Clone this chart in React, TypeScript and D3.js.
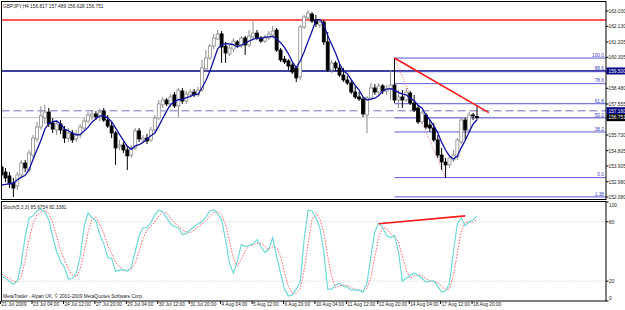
import React from 'react'
import * as d3 from 'd3'

const W = 625
const H = 310
const plotL = 1.5
const plotR = 606
const mainTop = 1.5
const mainBot = 199.5
const stochTop = 201.5
const stochBot = 301

const symbolTitle = 'GBPJPY,H4  156.817 157.489 156.628 156.751'
const stochTitle = 'Stoch(5,3,3) 85.6754 82.3381'
const copyright = 'MetaTrader - Alpari UK, \u00a9 2001-2009 MetaQuotes Software Corp.'

// one label every 8 bars, starting at bar 0
const timeLabels = ['21 Jul 2009', '23 Jul 04:00', '24 Jul 12:00', '27 Jul 20:00', '29 Jul 04:00', '30 Jul 12:00',
  '31 Jul 20:00', '4 Aug 04:00', '5 Aug 12:00', '6 Aug 20:00', '10 Aug 04:00', '11 Aug 12:00',
  '12 Aug 20:00', '14 Aug 04:00', '17 Aug 12:00', '18 Aug 20:00']

const priceTicks = ['163.030', '162.130', '161.205', '160.305', '159.380', '158.480', '157.555',
  '156.655', '155.730', '154.805', '153.905', '152.980', '152.080']

// H4 bars: [open, high, low, close]
const candles = [
  [153.85, 154.08, 153.08, 153.38], [153.55, 153.79, 152.96, 153.20], [153.32, 153.55, 152.61, 152.91],
  [152.91, 153.20, 152.08, 152.61], [152.73, 153.55, 152.49, 153.38], [153.38, 154.26, 153.20, 154.08],
  [154.08, 154.26, 153.55, 153.79], [153.67, 154.85, 153.49, 154.67], [154.55, 155.73, 154.38, 155.55],
  [155.50, 156.50, 155.32, 156.20], [156.20, 157.44, 156.03, 156.85], [156.73, 157.50, 156.38, 157.08],
  [157.08, 157.32, 156.20, 156.38], [156.44, 156.73, 155.85, 156.08], [156.03, 156.61, 155.73, 156.38],
  [156.38, 156.61, 155.79, 156.03], [156.03, 156.26, 155.26, 155.55], [155.55, 156.14, 155.32, 155.85],
  [155.85, 156.03, 155.26, 155.44], [155.50, 156.03, 155.32, 155.79], [155.73, 156.38, 155.55, 156.20],
  [156.14, 156.73, 156.03, 156.55], [156.55, 157.08, 156.44, 156.91], [156.85, 157.20, 156.61, 156.97],
  [156.97, 157.14, 156.61, 156.79], [156.79, 157.26, 156.55, 157.08], [157.14, 157.32, 156.50, 156.61],
  [156.61, 156.91, 156.14, 156.26], [156.26, 156.50, 155.55, 155.85], [155.85, 155.97, 153.97, 154.97],
  [155.03, 155.44, 154.85, 155.14], [155.14, 155.32, 154.67, 154.85], [154.85, 155.08, 153.67, 154.50],
  [154.55, 155.14, 154.38, 154.97], [154.97, 156.14, 154.85, 155.97], [155.97, 156.14, 155.32, 155.50],
  [155.44, 155.73, 155.32, 155.55], [155.55, 155.79, 155.20, 155.38], [155.44, 156.20, 155.32, 156.03],
  [156.03, 156.91, 155.91, 156.73], [156.73, 157.79, 156.61, 157.56], [157.50, 157.97, 157.32, 157.79],
  [157.79, 157.91, 157.44, 157.56], [157.56, 158.14, 157.38, 157.97], [158.09, 158.26, 157.32, 157.44],
  [157.44, 158.50, 156.79, 158.38], [158.32, 158.50, 157.56, 157.73], [157.73, 158.32, 157.56, 158.14],
  [158.09, 158.44, 157.97, 158.26], [158.26, 158.44, 157.97, 158.09], [158.09, 158.56, 157.97, 158.38],
  [158.38, 160.15, 158.26, 159.68], [159.62, 160.73, 159.44, 160.26], [160.26, 161.09, 160.15, 160.97],
  [160.97, 161.68, 160.79, 161.44], [161.38, 161.91, 161.32, 161.68], [161.68, 161.85, 159.97, 160.91],
  [160.97, 161.21, 159.97, 160.56], [160.50, 161.03, 160.38, 160.85], [160.79, 161.44, 160.62, 161.26],
  [161.21, 161.32, 160.85, 161.03], [160.97, 161.56, 160.85, 161.44], [161.44, 161.56, 160.44, 161.03],
  [161.03, 161.91, 160.91, 161.56], [161.50, 162.50, 161.32, 161.73], [161.73, 161.91, 161.32, 161.44],
  [161.44, 161.56, 161.15, 161.26], [161.26, 161.62, 161.15, 161.44], [161.44, 161.85, 161.32, 161.68],
  [161.62, 162.15, 161.56, 161.85], [161.91, 162.03, 160.62, 160.73], [160.73, 160.85, 160.03, 160.15],
  [160.20, 160.38, 159.91, 160.03], [160.09, 160.20, 159.56, 159.79], [159.85, 159.97, 159.32, 159.44],
  [159.68, 159.79, 158.85, 159.09], [159.15, 162.21, 158.97, 162.09], [162.09, 162.80, 161.97, 162.68],
  [162.62, 163.09, 162.50, 162.91], [162.85, 162.97, 162.32, 162.44], [162.50, 162.80, 162.09, 162.27],
  [162.21, 162.56, 162.03, 162.38], [162.38, 162.50, 161.03, 161.21], [161.21, 161.79, 159.44, 159.56],
  [159.56, 160.15, 159.38, 159.97], [159.97, 160.09, 159.50, 159.68], [159.68, 159.97, 159.15, 159.26],
  [159.26, 159.68, 158.85, 158.97], [158.97, 159.20, 158.67, 158.79], [158.79, 158.97, 158.14, 158.26],
  [158.26, 158.62, 157.85, 157.97], [157.97, 158.26, 157.73, 157.85], [157.85, 157.97, 156.79, 156.97],
  [156.91, 158.03, 155.85, 157.91], [157.91, 158.79, 157.79, 158.50], [158.50, 158.73, 158.09, 158.26],
  [158.26, 158.79, 158.09, 158.62], [158.62, 158.73, 158.14, 158.32], [158.32, 158.67, 158.09, 158.44],
  [158.44, 159.56, 157.79, 158.67], [158.67, 160.26, 157.61, 157.79], [157.79, 158.38, 157.32, 157.97],
  [157.97, 158.38, 157.32, 157.79], [157.79, 158.50, 157.67, 158.26], [158.20, 158.32, 157.50, 157.61],
  [157.61, 158.09, 157.08, 157.20], [157.32, 157.50, 156.38, 156.50], [156.50, 157.14, 156.38, 157.03],
  [156.91, 157.03, 156.08, 156.20], [156.32, 156.61, 155.91, 156.14], [156.14, 156.44, 155.32, 155.44],
  [155.44, 155.73, 154.38, 154.55], [154.55, 154.97, 153.67, 154.14], [154.14, 154.38, 153.20, 153.97],
  [153.97, 154.55, 153.79, 154.38], [154.26, 154.85, 154.14, 154.55], [154.44, 155.55, 154.26, 155.44],
  [155.32, 156.73, 155.20, 156.61], [156.61, 156.73, 155.44, 156.03], [156.03, 157.08, 155.85, 156.91],
  [156.91, 157.03, 156.61, 156.85], [156.817, 157.489, 156.628, 156.751]
]

// closes before the first visible bar (for the 5-bar average)
const maHistory = [152.97, 152.73, 152.55, 152.26]

// Stochastic %K main line, one value per bar
const stochMain = [25, 23, 20, 17, 20, 38, 65, 84, 86, 91, 93, 90, 82, 65, 50, 40, 34, 22, 23, 28,
  45, 75, 89, 84, 81, 67, 58, 44, 43, 30, 31, 32, 30, 34, 50, 66, 74, 74, 79, 87,
  92, 90, 84, 78, 75, 74, 67, 68, 72, 75, 78, 80, 85, 91, 92, 88, 82, 62, 38, 28,
  40, 57, 55, 56, 58, 62, 55, 49, 52, 64, 45, 28, 12, 5, 6, 12, 19, 62, 92, 91,
  84, 74, 50, 12, 12, 16, 18, 15, 14, 11, 11, 11, 9, 18, 45, 70, 79, 74, 66, 64,
  66, 50, 20, 23, 26, 28, 26, 23, 19, 20, 20, 15, 9, 10, 18, 50, 78, 84, 76, 80,
  82, 86]
const stochHistory = [30, 27]

const resistance = 162.50
const support = 159.50
const dashedLevel = 157.16
const fibStart = { bar: 100, price: 160.26 }
const fibEnd = { bar: 113, price: 153.22 }
const fibLevels = [1, 0.886, 0.786, 0.618, 0.5, 0.382, 0, -0.161]
const fibLabels = ['100.0', '88.6', '78.6', '61.8', '50.0', '38.2', '0.0', '1.38']
const trendLine = [{ bar: 100, price: 160.26 }, { bar: 124, price: 157.05 }]
const stochDivergence = [{ bar: 96, value: 78 }, { bar: 118, value: 86 }]

const font = 'Liberation Sans, Arial, sans-serif'

export default function App() {
  const x = d3.scaleLinear().domain([0, 121]).range([1.6, 477])
  const yP = d3.scaleLinear().domain([152.08, 163.03]).range([197, 11])
  const yS = d3.scaleLinear().domain([0, 100]).range([301, 202])

  const closes = candles.map(d => d[3])
  const allCloses = [...maHistory, ...closes]
  const ma = closes.map((_, i) => d3.mean(allCloses.slice(i, i + 5)) as number)
  const allMain = [...stochHistory, ...stochMain]
  const signal = stochMain.map((_, i) => d3.mean(allMain.slice(i, i + 3)) as number)

  const maLine = d3.line<number>().x((_, i) => x(i)).y(d => yP(d))
  const stLine = d3.line<number>().x((_, i) => x(i)).y(d => yS(d))

  const fibY = (lv: number) => yP(fibEnd.price + (fibStart.price - fibEnd.price) * lv)
  const lastClose = closes[closes.length - 1]

  // price boxes on the right axis hide the tick labels beneath them
  const boxes = [
    { price: support, text: '159.500', fill: '#000080' },
    { price: dashedLevel, text: '157.160', fill: '#000080' },
    { price: lastClose, text: '156.751', fill: '#000' }
  ]
  const visibleTicks = priceTicks.filter(t => boxes.every(b => Math.abs(yP(+t) - yP(b.price)) > 5))

  return (
    <svg width={W} height={H} viewBox={`0 0 ${W} ${H}`}
      style={{ position: 'absolute', left: 0, top: 0, background: '#fff' }} fontFamily={font}>
      <defs>
        <clipPath id="mainClip"><rect x={plotL} y={mainTop} width={plotR - plotL} height={mainBot - mainTop} /></clipPath>
        <clipPath id="stochClip"><rect x={plotL} y={stochTop} width={plotR - plotL} height={stochBot - stochTop} /></clipPath>
      </defs>

      {/* main panel */}
      <g clipPath="url(#mainClip)">
        <line x1={plotL} x2={plotR} y1={yP(lastClose)} y2={yP(lastClose)} stroke="#c8c8c8" strokeWidth={1} />
        <line x1={plotL} x2={plotR} y1={yP(dashedLevel)} y2={yP(dashedLevel)} stroke="#a0a0d0" strokeWidth={1.5} strokeDasharray="8,4" />
        <line x1={plotL} x2={plotR} y1={yP(resistance)} y2={yP(resistance)} stroke="#ff2020" strokeWidth={1.6} />
        <line x1={plotL} x2={plotR} y1={yP(support)} y2={yP(support)} stroke="#000080" strokeWidth={1.4} />

        {fibLevels.map((lv, i) => (
          <g key={lv}>
            <line x1={x(fibStart.bar)} x2={plotR} y1={fibY(lv)} y2={fibY(lv)} stroke="#5a5ad0" strokeWidth={1} />
            <text x={604} y={fibY(lv) - 1.2} fontSize={4.8} fill="#4040c0" textAnchor="end">{fibLabels[i]}</text>
          </g>
        ))}
        <line x1={x(fibStart.bar)} y1={yP(fibStart.price)} x2={x(fibEnd.bar)} y2={yP(fibEnd.price)}
          stroke="#ff7070" strokeWidth={1} strokeDasharray="1,1.5" />

        {candles.map((d, i) => {
          const [o, h, l, c] = d
          const up = c >= o
          const top = yP(Math.max(o, c))
          const bh = Math.max(1, Math.abs(yP(o) - yP(c)))
          return (
            <g key={i}>
              <line x1={x(i)} x2={x(i)} y1={yP(h)} y2={yP(l)} stroke={up ? '#8a8a8a' : '#000'} strokeWidth={1} />
              <rect x={x(i) - 1.5} y={top} width={3} height={bh} fill={up ? '#fff' : '#000'}
                stroke={up ? '#8a8a8a' : '#000'} strokeWidth={0.8} />
            </g>
          )
        })}

        <path d={maLine(ma) || ''} fill="none" stroke="#1010a0" strokeWidth={1.3} />
        <line x1={x(trendLine[0].bar)} y1={yP(trendLine[0].price)} x2={x(trendLine[1].bar)} y2={yP(trendLine[1].price)}
          stroke="#ff1818" strokeWidth={1.6} />
      </g>
      <text x={3} y={7.5} fontSize={4.8} fill="#222">{symbolTitle}</text>

      {/* stochastic panel */}
      <g clipPath="url(#stochClip)">
        {[80, 20].map(v => (
          <line key={v} x1={plotL} x2={plotR} y1={yS(v)} y2={yS(v)} stroke="#c8c8c8" strokeDasharray="1,2" />
        ))}
        <path d={stLine(signal) || ''} fill="none" stroke="#ff6060" strokeWidth={1} strokeDasharray="1.5,1.5" />
        <path d={stLine(stochMain) || ''} fill="none" stroke="#70d8d8" strokeWidth={1.2} />
        <line x1={x(stochDivergence[0].bar)} y1={yS(stochDivergence[0].value)} x2={x(stochDivergence[1].bar)} y2={yS(stochDivergence[1].value)}
          stroke="#ff1818" strokeWidth={1.6} />
      </g>
      <text x={3} y={209} fontSize={4.8} fill="#222">{stochTitle}</text>
      <text x={3} y={297.5} fontSize={4.8} fill="#222">{copyright}</text>

      {/* frames */}
      <rect x={plotL} y={mainTop} width={plotR - plotL} height={mainBot - mainTop} fill="none" stroke="#000" strokeWidth={1} />
      <rect x={plotL} y={stochTop} width={plotR - plotL} height={stochBot - stochTop} fill="none" stroke="#000" strokeWidth={1} />

      {/* price axis */}
      {priceTicks.map(t => (
        <line key={t} x1={606} x2={608.5} y1={yP(+t)} y2={yP(+t)} stroke="#000" />
      ))}
      {visibleTicks.map(t => (
        <text key={t} x={608.5} y={yP(+t) + 1.8} fontSize={4.8} fill="#222">{t}</text>
      ))}
      {boxes.map(b => (
        <g key={b.text}>
          <rect x={606.5} y={yP(b.price) - 3.5} width={19} height={7} fill={b.fill} />
          <text x={608.5} y={yP(b.price) + 1.8} fontSize={4.8} fill="#fff">{b.text}</text>
        </g>
      ))}

      {/* stochastic axis */}
      {[100, 80, 20, 0].map(v => (
        <g key={v}>
          <line x1={606} x2={608.5} y1={yS(v)} y2={yS(v)} stroke="#000" />
          <text x={609} y={Math.min(298, Math.max(205, yS(v))) + 1.8} fontSize={4.8} fill="#222">{v}</text>
        </g>
      ))}

      {/* time axis */}
      {timeLabels.map((t, k) => (
        <g key={t}>
          <line x1={x(k * 8) - 1} x2={x(k * 8) - 1} y1={301} y2={304} stroke="#000" />
          <text x={x(k * 8)} y={306} fontSize={4.8} fill="#222">{t}</text>
        </g>
      ))}
    </svg>
  )
}
